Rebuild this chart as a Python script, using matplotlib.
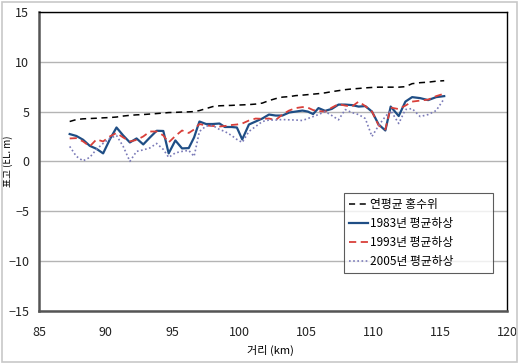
import matplotlib
matplotlib.use("Agg")
import matplotlib.pyplot as plt
from matplotlib.patches import Rectangle

plt.rcParams['font.family'] = ['Noto Sans CJK KR', 'DejaVu Sans']

dist_km = [87.3, 87.8, 88.3, 88.8, 89.3, 89.8, 90.3, 90.8, 91.3, 91.8,
           92.3, 92.8, 93.3, 93.8, 94.3, 94.7, 95.2, 95.7, 96.2, 96.6,
           97.0, 97.5, 98.0, 98.5, 98.9, 99.4, 99.8, 100.2, 100.7, 101.2,
           101.7, 102.2, 102.7, 103.2, 103.7, 104.2, 104.7, 105.1, 105.5, 105.9,
           106.4, 106.9, 107.4, 107.9, 108.4, 108.9, 109.4, 109.9, 110.4, 110.9,
           111.3, 111.9, 112.4, 112.9, 113.5, 114.1, 114.7, 115.3]

flood_level = [4.0, 4.2, 4.27, 4.3, 4.33, 4.37, 4.4, 4.45, 4.55, 4.62,
               4.67, 4.7, 4.75, 4.8, 4.85, 4.9, 4.92, 4.95, 4.97, 5.0,
               5.1, 5.3, 5.5, 5.58, 5.6, 5.62, 5.65, 5.67, 5.7, 5.75,
               5.85, 6.1, 6.3, 6.45, 6.5, 6.6, 6.65, 6.7, 6.75, 6.8,
               6.88, 7.0, 7.1, 7.2, 7.27, 7.32, 7.38, 7.42, 7.45, 7.45,
               7.45, 7.45, 7.5, 7.8, 7.9, 7.95, 8.05, 8.1]

bed_1983 = [2.74, 2.55, 2.17, 1.56, 1.26, 0.8, 2.2, 3.4, 2.6, 1.9,
            2.3, 1.7, 2.4, 3.07, 3.05, 0.8, 2.1, 1.3, 1.33, 2.4,
            4.0, 3.75, 3.75, 3.8, 3.45, 3.45, 3.4, 2.2, 3.7, 4.0,
            4.3, 4.7, 4.6, 4.6, 4.9, 5.0, 5.1, 5.0, 4.75, 5.35,
            5.07, 5.27, 5.7, 5.7, 5.65, 5.5, 5.55, 5.0, 3.7, 3.1,
            5.5, 4.55, 6.0, 6.45, 6.35, 6.15, 6.45, 6.55]

bed_1993 = [2.3, 2.33, 2.0, 1.5, 2.2, 2.0, 2.5, 2.85, 2.4, 2.0,
            2.15, 2.5, 3.0, 3.0, 2.6, 1.9, 2.55, 3.1, 2.85, 3.2,
            3.75, 3.6, 3.55, 3.5, 3.55, 3.65, 3.7, 3.8, 4.1, 4.3,
            4.27, 4.3, 4.15, 4.7, 5.1, 5.35, 5.45, 5.4, 5.15, 5.05,
            5.0, 5.4, 5.75, 5.6, 5.5, 6.0, 5.55, 5.0, 3.6, 3.2,
            5.4, 5.25, 5.6, 6.0, 6.1, 6.2, 6.55, 6.8]

bed_2005 = [1.5, 0.5, 0.05, 0.4, 1.2, 1.8, 2.3, 2.6, 1.5, 0.0,
            1.0, 1.15, 1.35, 1.8, 1.2, 0.4, 0.85, 1.0, 1.1, 0.5,
            3.0, 3.55, 3.6, 3.2, 3.0, 2.6, 2.2, 1.9, 3.0, 3.5,
            4.0, 4.15, 4.15, 4.2, 4.17, 4.15, 4.1, 4.3, 4.5, 4.7,
            5.0, 4.6, 4.17, 5.2, 4.9, 4.7, 4.3, 2.5, 3.6, 4.5,
            5.1, 3.8, 5.2, 5.3, 4.5, 4.7, 5.1, 6.3]

series_labels = ['연평균 홍수위', '1983년 평균하상', '1993년 평균하상', '2005년 평균하상']
x_ticks = [85, 90, 95, 100, 105, 110, 115, 120]
y_ticks = [-15, -10, -5, 0, 5, 10, 15]

fig = plt.figure(figsize=(5.19, 3.63), dpi=100)
fig.patches.append(Rectangle((0.004, 0.004), 0.992, 0.99, transform=fig.transFigure,
                             fill=False, edgecolor='#c8c8c8', linewidth=1.2))
ax = fig.add_axes([0.075, 0.144, 0.902, 0.823])

ax.plot(dist_km, flood_level, color='black', linestyle=(0, (4, 3)), linewidth=1.1, label=series_labels[0])
ax.plot(dist_km, bed_1983, color='#1f4e85', linestyle='-', linewidth=1.6, label=series_labels[1])
ax.plot(dist_km, bed_1993, color='#d9403a', linestyle=(0, (4, 2.5)), linewidth=1.3, label=series_labels[2])
ax.plot(dist_km, bed_2005, color='#7a7ab8', linestyle=(0, (1, 1.5)), linewidth=1.2, label=series_labels[3])

ax.set_xlim(85, 120)
ax.set_ylim(-15, 15)
ax.set_xticks(x_ticks)
ax.set_yticks(y_ticks)
ax.yaxis.grid(True, color='#b4b4b4', linewidth=1.0)
ax.set_axisbelow(True)
ax.tick_params(axis='both', length=0, labelsize=9, colors='#222222')
ax.tick_params(axis='x', pad=11)
ax.tick_params(axis='y', pad=7)
for s in ['top', 'right']:
    ax.spines[s].set_color('black')
    ax.spines[s].set_linewidth(1.0)
for s in ['left', 'bottom']:
    ax.spines[s].set_color('#555555')
    ax.spines[s].set_linewidth(1.8)

ax.set_xlabel('거리 (km)', fontsize=8)
ax.xaxis.set_label_coords(0.495, -0.115)
ax.set_ylabel('표고 (EL. m)', fontsize=7)
ax.yaxis.set_label_coords(-0.056, 0.5)

leg = ax.legend(loc='lower left', bbox_to_anchor=(0.652, 0.125, 0.319, 0.279), mode='expand',
                fontsize=8.5, frameon=True, fancybox=False, handlelength=1.6,
                handletextpad=0.1, borderpad=0.45, labelspacing=0.5, borderaxespad=0)
leg.get_frame().set_edgecolor('#333333')
leg.get_frame().set_linewidth(0.8)

fig.savefig('out.png', dpi=100)
